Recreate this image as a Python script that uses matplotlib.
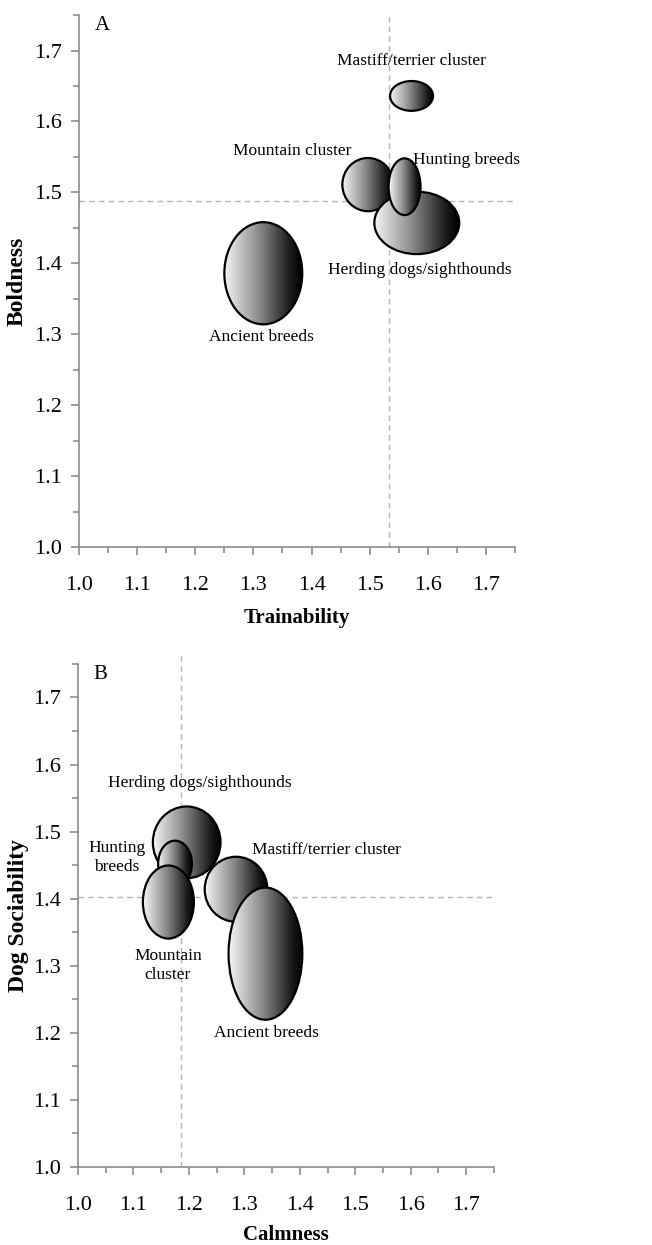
import numpy as np
import matplotlib
matplotlib.use("Agg")
import matplotlib.pyplot as plt
from matplotlib.patches import Ellipse
from matplotlib.colors import LinearSegmentedColormap
from matplotlib.ticker import MultipleLocator

plt.rcParams["font.family"] = ["Liberation Serif", "DejaVu Serif"]

# panel A: trainability vs boldness
groups_a = ["Ancient breeds", "Mastiff/terrier cluster", "Mountain cluster",
            "Herding dogs/sighthounds", "Hunting breeds"]
train_a = [1.317, 1.572, 1.497, 1.581, 1.560]
bold_a = [1.386, 1.636, 1.511, 1.457, 1.508]
wid_a = [0.134, 0.074, 0.088, 0.146, 0.055]
hgt_a = [0.144, 0.042, 0.075, 0.088, 0.080]
lab_a = [(1.314, 1.296), (1.571, 1.685), (1.367, 1.559), (1.587, 1.390), (1.667, 1.546)]
mean_train = 1.533
mean_bold = 1.488

# panel B: calmness vs dog sociability
groups_b = ["Herding dogs/sighthounds", "Hunting breeds", "Mountain cluster",
            "Mastiff/terrier cluster", "Ancient breeds"]
text_b = ["Herding dogs/sighthounds", "Hunting\nbreeds", "Mountain\ncluster",
          "Mastiff/terrier cluster", "Ancient breeds"]
calm_b = [1.196, 1.175, 1.163, 1.285, 1.338]
soc_b = [1.484, 1.452, 1.395, 1.414, 1.318]
wid_b = [0.122, 0.061, 0.092, 0.113, 0.133]
hgt_b = [0.107, 0.069, 0.109, 0.097, 0.197]
lab_b = [(1.219, 1.572), (1.070, 1.461), (1.162, 1.300), (1.448, 1.472), (1.340, 1.200)]
mean_calm = 1.185
mean_soc = 1.403

ticks = [1.0, 1.1, 1.2, 1.3, 1.4, 1.5, 1.6, 1.7]
grad = LinearSegmentedColormap.from_list(
    "g", [(0.0, "#f6f6f6"), (0.45, "#8a8a8a"), (0.85, "#1a1a1a"), (1.0, "#000000")])
axcol = "#8c8c8c"
dashcol = "#b4b4b4"


def bubbles(ax, xs, ys, ws, hs):
    g = np.linspace(0, 1, 256).reshape(1, -1)
    for i, (x, y, w, h) in enumerate(zip(xs, ys, ws, hs)):
        e = Ellipse((x, y), w, h, facecolor="none", edgecolor="black",
                    linewidth=1.6, zorder=3 + 2 * i + 1)
        ax.add_patch(e)
        im = ax.imshow(g, cmap=grad, extent=[x - w / 2, x + w / 2, y - h / 2, y + h / 2],
                       aspect="auto", zorder=3 + 2 * i, interpolation="bilinear")
        im.set_clip_path(e)


def style(ax, xlabel, ylabel, letter, ylab_x, xlab_y):
    ax.set_xlim(1.0, 1.75)
    ax.set_ylim(1.0, 1.75)
    ax.set_xticks(ticks)
    ax.set_yticks(ticks)
    ax.set_xticklabels(["%.1f" % t for t in ticks])
    ax.set_yticklabels(["%.1f" % t for t in ticks])
    ax.xaxis.set_minor_locator(MultipleLocator(0.05))
    ax.yaxis.set_minor_locator(MultipleLocator(0.05))
    for s in ["top", "right"]:
        ax.spines[s].set_visible(False)
    for s in ["left", "bottom"]:
        ax.spines[s].set_color(axcol)
        ax.spines[s].set_linewidth(1.2)
    ax.tick_params(which="major", length=6, width=1.2, color=axcol, labelsize=16)
    ax.tick_params(which="minor", length=4, width=1.2, color=axcol)
    ax.tick_params(axis="x", which="major", pad=15)
    ax.tick_params(axis="y", which="major", pad=6)
    ax.set_xlabel(xlabel, fontsize=15, fontweight="bold", va="center")
    ax.set_ylabel(ylabel, fontsize=17, fontweight="bold", va="center")
    ax.xaxis.set_label_coords(0.5, xlab_y)
    ax.yaxis.set_label_coords(ylab_x, 0.5)
    ax.text(1.040, 1.735, letter, fontsize=15, ha="center", va="center")


fig = plt.figure(figsize=(6.52, 12.45), dpi=100)

ax1 = fig.add_axes([0.1212, 0.5606, 0.6687, 0.4273])
ax1.vlines(mean_train, 1.0, 1.753, color=dashcol, ls=(0, (4, 3)), lw=1.0, zorder=1, clip_on=False)
ax1.axhline(mean_bold, color=dashcol, ls=(0, (4, 3)), lw=1.0, zorder=1)
bubbles(ax1, train_a, bold_a, wid_a, hgt_a)
for name, (lx, ly) in zip(groups_a, lab_a):
    ax1.text(lx, ly, name, fontsize=12.5, ha="center", va="center", zorder=20, clip_on=False)
style(ax1, "Trainability", "Boldness", "A", -0.141, -0.134)

ax2 = fig.add_axes([0.1196, 0.0627, 0.638, 0.404])
ax2.vlines(mean_calm, 1.0, 1.768, color=dashcol, ls=(0, (4, 3)), lw=1.0, zorder=1, clip_on=False)
ax2.axhline(mean_soc, color=dashcol, ls=(0, (4, 3)), lw=1.0, zorder=1)
bubbles(ax2, calm_b, soc_b, wid_b, hgt_b)
for name, (lx, ly) in zip(text_b, lab_b):
    ax2.text(lx, ly, name, fontsize=12.5, ha="center", va="center", zorder=20,
             linespacing=1.25, clip_on=False)
style(ax2, "Calmness", "Dog Sociability", "B", -0.144, -0.135)

fig.savefig("out.png", dpi=100)
